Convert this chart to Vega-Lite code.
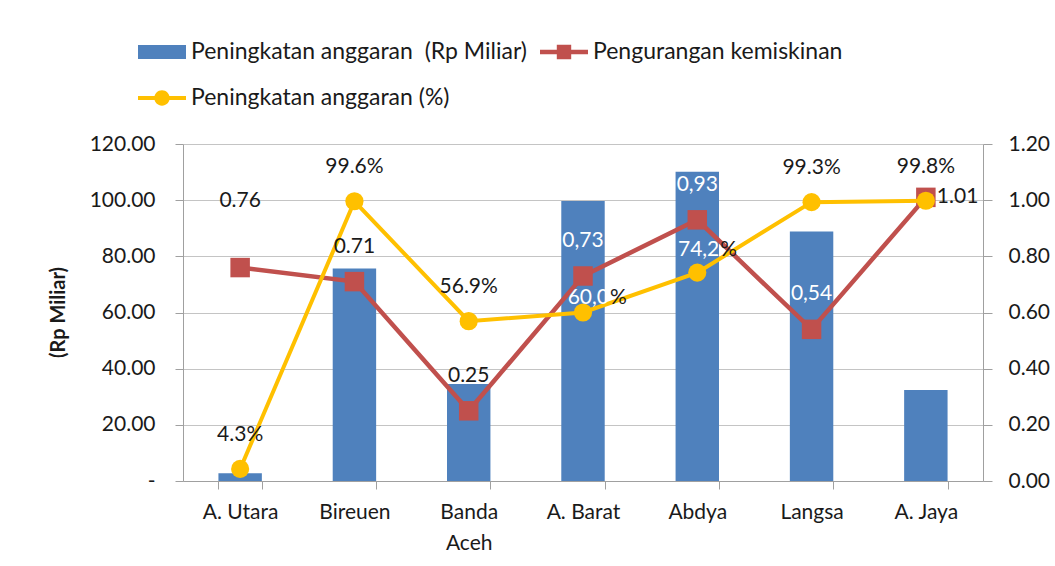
{
  "$schema": "https://vega.github.io/schema/vega-lite/v6.json",
  "width": 800,
  "height": 337,
  "autosize": {"type": "none"},
  "padding": {"left": 183, "top": 144, "right": 72, "bottom": 85},
  "background": "white",
  "config": {
    "font": "Lato",
    "view": {"stroke": null},
    "axis": {"labelFont": "Lato", "labelColor": "#1a1a1a", "labelFontSize": 21, "domainColor": "#a0a0a0", "tickColor": "#a0a0a0", "gridColor": "#c4c4c4"}
  },
  "data": {"values": [
    {"kab": "A. Utara", "anggaran": 2.8, "kem": 0.76, "kemLabel": "0.76", "pct": 0.043, "pctLabel": "4.3%", "pctNum": "4.3"},
    {"kab": "Bireuen", "anggaran": 75.7, "kem": 0.71, "kemLabel": "0.71", "pct": 0.996, "pctLabel": "99.6%", "pctNum": "99.6"},
    {"kab": "Banda Aceh", "anggaran": 34.5, "kem": 0.25, "kemLabel": "0.25", "pct": 0.569, "pctLabel": "56.9%", "pctNum": "56.9"},
    {"kab": "A. Barat", "anggaran": 99.7, "kem": 0.73, "kemLabel": "0,73", "pct": 0.6, "pctLabel": "60,0%", "pctNum": "60,0"},
    {"kab": "Abdya", "anggaran": 110.1, "kem": 0.93, "kemLabel": "0,93", "pct": 0.742, "pctLabel": "74,2%", "pctNum": "74,2"},
    {"kab": "Langsa", "anggaran": 88.8, "kem": 0.54, "kemLabel": "0,54", "pct": 0.993, "pctLabel": "99.3%", "pctNum": "99.3"},
    {"kab": "A. Jaya", "anggaran": 32.4, "kem": 1.01, "kemLabel": "1.01", "pct": 0.998, "pctLabel": "99.8%", "pctNum": "99.8"}
  ]},
  "encoding": {
    "x": {
      "field": "kab", "type": "nominal", "sort": null,
      "scale": {"paddingInner": 0.62, "paddingOuter": 0.31},
      "axis": {
        "title": null, "labelAngle": 0, "tickBand": "extent", "tickSize": 8, "labelPadding": 12,
        "labelBaseline": "top", "labelLineHeight": 31, "domainColor": "#a0a0a0",
        "labelExpr": "datum.label == 'Banda Aceh' ? ['Banda', 'Aceh'] : datum.label"
      }
    }
  },
  "layer": [
    {
      "layer": [
        {
          "mark": {"type": "bar", "fill": "#4F81BD"},
          "encoding": {
            "y": {
              "field": "anggaran", "type": "quantitative",
              "scale": {"domain": [0, 120], "nice": false},
              "axis": {
                "orient": "left", "values": [0, 20, 40, 60, 80, 100, 120], "grid": true,
                "tickSize": 8, "labelPadding": 20,
                "labelExpr": "datum.value === 0 ? '-' : format(datum.value, '.2f')",
                "title": "(Rp Miliar)", "titleFont": "Lato", "titleFontSize": 20, "titleFontWeight": "bold", "titleColor": "#1a1a1a",
                "titleX": -125, "titleY": 168, "titleAngle": 270, "titleAlign": "center", "titleBaseline": "middle"
              }
            },
            "color": {
              "datum": "Peningkatan anggaran \u00a0(Rp Miliar)",
              "type": "nominal",
              "scale": {
                "domain": ["Peningkatan anggaran \u00a0(Rp Miliar)", "Pengurangan kemiskinan", "Peningkatan anggaran (%)"],
                "range": ["#4F81BD", "#C0504D", "#FFC000"]
              },
              "legend": {
                "title": null, "orient": "none", "legendX": -45, "legendY": -116, "direction": "horizontal",
                "columns": 2, "columnPadding": 13, "rowPadding": 10, "padding": 0,
                "symbolSize": 2304, "labelFontSize": 23, "labelFont": "Lato", "labelColor": "#1a1a1a",
                "labelOffset": 5, "labelLimit": 600, "symbolStrokeWidth": 0,
                "encode": {
                  "symbols": {
                    "update": {
                      "shape": {"signal": "indexof(datum.value, 'Rp') >= 0 ? 'M-1,-0.29H1V0.29H-1Z' : (indexof(datum.value, 'kemiskinan') >= 0 ? 'M-1,-0.09H1V0.09H-1Z M-0.3,-0.3H0.3V0.3H-0.3Z' : 'M-1,-0.08H1V0.08H-1Z M0.32,0A0.32,0.32 0 1,1 -0.32,0A0.32,0.32 0 1,1 0.32,0Z')"},
                      "fill": {"signal": "indexof(datum.value, 'Rp') >= 0 ? '#4F81BD' : (indexof(datum.value, 'kemiskinan') >= 0 ? '#C0504D' : '#FFC000')"},
                      "strokeWidth": {"value": 0},
                      "opacity": {"value": 1}
                    }
                  }
                }
              }
            }
          }
        }
      ]
    },
    {
      "layer": [
        {
          "mark": {"type": "line", "strokeWidth": 4.5},
          "encoding": {
            "y": {"field": "kem", "type": "quantitative", "scale": {"domain": [0, 1.2], "nice": false},
                  "axis": {"orient": "right", "title": null, "values": [0, 0.2, 0.4, 0.6, 0.8, 1.0, 1.2], "format": ".2f", "grid": false, "tickSize": 9, "labelPadding": 16}},
            "color": {"datum": "Pengurangan kemiskinan", "type": "nominal"}
          }
        },
        {
          "mark": {"type": "point", "shape": "square", "filled": true, "size": 380, "opacity": 1},
          "encoding": {
            "y": {"field": "kem", "type": "quantitative"},
            "color": {"datum": "Pengurangan kemiskinan", "type": "nominal"}
          }
        },
        {
          "mark": {"type": "line", "strokeWidth": 4},
          "encoding": {
            "y": {"field": "pct", "type": "quantitative"},
            "color": {"datum": "Peningkatan anggaran (%)", "type": "nominal"}
          }
        },
        {
          "mark": {"type": "point", "shape": "circle", "filled": true, "size": 330, "opacity": 1},
          "encoding": {
            "y": {"field": "pct", "type": "quantitative"},
            "color": {"datum": "Peningkatan anggaran (%)", "type": "nominal"}
          }
        },
        {
          "transform": [{"filter": {"field": "kab", "oneOf": ["A. Utara"]}}],
          "mark": {"type": "text", "fontSize": 21, "font": "Lato", "color": "#1a1a1a", "baseline": "middle", "dy": -67},
          "encoding": {"y": {"field": "kem", "type": "quantitative"}, "text": {"field": "kemLabel"}}
        },
        {
          "transform": [{"filter": {"field": "kab", "oneOf": ["Bireuen", "Banda Aceh"]}}],
          "mark": {"type": "text", "fontSize": 21, "font": "Lato", "color": "#1a1a1a", "baseline": "middle", "dy": -35},
          "encoding": {"y": {"field": "kem", "type": "quantitative"}, "text": {"field": "kemLabel"}}
        },
        {
          "transform": [{"filter": {"field": "kab", "oneOf": ["A. Barat", "Abdya", "Langsa"]}}],
          "mark": {"type": "text", "fontSize": 21, "font": "Lato", "color": "white", "baseline": "middle", "dy": -35},
          "encoding": {"y": {"field": "kem", "type": "quantitative"}, "text": {"field": "kemLabel"}}
        },
        {
          "transform": [{"filter": {"field": "kab", "oneOf": ["A. Jaya"]}}],
          "mark": {"type": "text", "fontSize": 21, "font": "Lato", "color": "#1a1a1a", "baseline": "middle", "align": "left", "dx": 11},
          "encoding": {"y": {"field": "kem", "type": "quantitative"}, "text": {"field": "kemLabel"}}
        },
        {
          "transform": [{"filter": {"field": "kab", "oneOf": ["A. Utara", "Bireuen", "Banda Aceh", "Langsa", "A. Jaya"]}}],
          "mark": {"type": "text", "fontSize": 21, "font": "Lato", "color": "#1a1a1a", "baseline": "middle", "dy": -34},
          "encoding": {"y": {"field": "pct", "type": "quantitative"}, "text": {"field": "pctLabel"}}
        },
        {
          "transform": [{"filter": {"field": "kab", "oneOf": ["A. Barat"]}}],
          "mark": {"type": "text", "fontSize": 21, "font": "Lato", "color": "white", "baseline": "middle", "align": "right", "dx": 26, "dy": -15},
          "encoding": {"y": {"field": "pct", "type": "quantitative"}, "text": {"field": "pctNum"}}
        },
        {
          "transform": [{"filter": {"field": "kab", "oneOf": ["A. Barat"]}}],
          "mark": {"type": "text", "fontSize": 21, "font": "Lato", "color": "#1a1a1a", "baseline": "middle", "align": "left", "dx": 27, "dy": -15},
          "encoding": {"y": {"field": "pct", "type": "quantitative"}, "text": {"value": "%"}}
        },
        {
          "transform": [{"filter": {"field": "kab", "oneOf": ["Abdya"]}}],
          "mark": {"type": "text", "fontSize": 21, "font": "Lato", "color": "white", "baseline": "middle", "align": "right", "dx": 22, "dy": -23},
          "encoding": {"y": {"field": "pct", "type": "quantitative"}, "text": {"field": "pctNum"}}
        },
        {
          "transform": [{"filter": {"field": "kab", "oneOf": ["Abdya"]}}],
          "mark": {"type": "text", "fontSize": 21, "font": "Lato", "color": "#1a1a1a", "baseline": "middle", "align": "left", "dx": 23, "dy": -23},
          "encoding": {"y": {"field": "pct", "type": "quantitative"}, "text": {"value": "%"}}
        }
      ]
    }
  ],
  "resolve": {"scale": {"y": "independent"}}
}
